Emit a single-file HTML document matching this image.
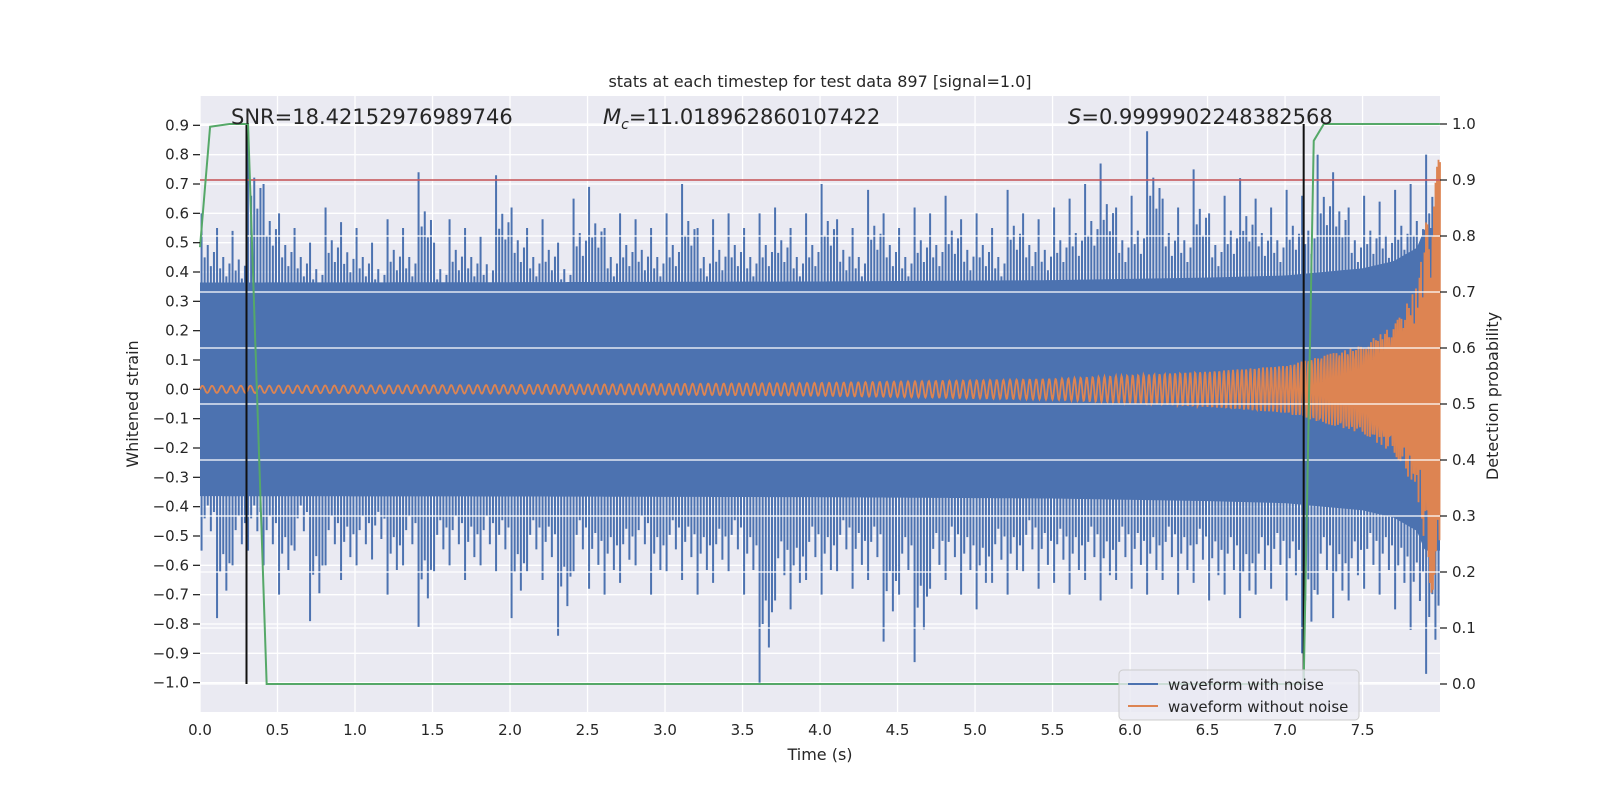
<!DOCTYPE html>
<html><head><meta charset="utf-8"><style>
html,body{margin:0;padding:0;background:#fff;}
svg{display:block;font-family:"DejaVu Sans","Liberation Sans",sans-serif;}
</style></head><body>
<svg id="chart" width="1600" height="800" viewBox="0 0 1600 800" xmlns="http://www.w3.org/2000/svg">
<rect x="0" y="0" width="1600" height="800" fill="#ffffff"/>
<rect x="200" y="96" width="1240" height="616" fill="#eaeaf2"/>
<g id="grid1"></g>
<g id="blue"></g>
<g id="orange"></g>
<g id="grid2"></g>
<g id="marks"></g>
<g id="green"></g>
<g id="axes"></g>
<text x="820" y="87" font-size="16" text-anchor="middle" fill="#262626">stats at each timestep for test data 897 [signal=1.0]</text>
<text x="231" y="124" font-size="21" fill="#262626">SNR=18.42152976989746</text>
<text x="603" y="124" font-size="21" fill="#262626"><tspan font-style="italic">M</tspan><tspan font-size="14" font-style="italic" dy="5">c</tspan><tspan dy="-5">=11.018962860107422</tspan></text>
<text x="1068" y="124" font-size="21" fill="#262626"><tspan font-style="italic">S</tspan>=0.9999902248382568</text>
<text x="820" y="760" font-size="16" text-anchor="middle" fill="#262626">Time (s)</text>
<text transform="translate(138,404) rotate(-90)" font-size="16" text-anchor="middle" fill="#262626">Whitened strain</text>
<text transform="translate(1498,396) rotate(-90)" font-size="16" text-anchor="middle" fill="#262626">Detection probability</text>
<g>
<rect x="1119" y="670" width="240" height="50" rx="4" fill="#eaeaf2" fill-opacity="0.8" stroke="#cccccc"/>
<line x1="1128" y1="684" x2="1158" y2="684" stroke="#4c72b0" stroke-width="2"/>
<text x="1168" y="690" font-size="15" fill="#262626">waveform with noise</text>
<line x1="1128" y1="706" x2="1158" y2="706" stroke="#dd8452" stroke-width="2"/>
<text x="1168" y="712" font-size="15" fill="#262626">waveform without noise</text>
</g>
</svg>
<script>
const binTimes = [0,0.1,0.2,0.3,0.4,0.5,0.6,0.7,0.8,0.9,1.0,1.1,1.2,1.3,1.4,1.5,1.6,1.7,1.8,1.9,2.0,2.1,2.2,2.3,2.4,2.5,2.6,2.7,2.8,2.9,3.0,3.1,3.2,3.3,3.4,3.5,3.6,3.7,3.8,3.9,4.0,4.1,4.2,4.3,4.4,4.5,4.6,4.7,4.8,4.9,5.0,5.1,5.2,5.3,5.4,5.5,5.6,5.7,5.8,5.9,6.0,6.1,6.2,6.3,6.4,6.5,6.6,6.7,6.8,6.9,7.0,7.1,7.2,7.3,7.4,7.5,7.6,7.7,7.8,7.9];
const noiseUpper = [0.6,0.55,0.54,0.88,0.7,0.6,0.55,0.5,0.62,0.57,0.55,0.5,0.58,0.55,0.74,0.5,0.58,0.55,0.52,0.73,0.62,0.55,0.58,0.5,0.65,0.69,0.55,0.6,0.58,0.55,0.6,0.7,0.55,0.58,0.6,0.55,0.6,0.62,0.55,0.6,0.7,0.58,0.55,0.68,0.6,0.55,0.62,0.6,0.66,0.58,0.6,0.55,0.68,0.6,0.58,0.62,0.65,0.7,0.77,0.62,0.66,0.88,0.65,0.62,0.75,0.6,0.66,0.72,0.65,0.62,0.68,0.66,0.8,0.74,0.62,0.66,0.64,0.68,0.7,0.8];
const noiseLower = [-0.55,-0.78,-0.6,-0.55,-0.6,-0.7,-0.55,-0.79,-0.6,-0.65,-0.6,-0.58,-0.7,-0.6,-0.81,-0.62,-0.6,-0.65,-0.6,-0.62,-0.78,-0.62,-0.65,-0.84,-0.62,-0.68,-0.7,-0.66,-0.6,-0.7,-0.62,-0.65,-0.7,-0.66,-0.62,-0.7,-1.0,-0.72,-0.75,-0.65,-0.7,-0.62,-0.68,-0.65,-0.86,-0.7,-0.93,-0.68,-0.65,-0.7,-0.75,-0.66,-0.7,-0.62,-0.68,-0.66,-0.7,-0.65,-0.72,-0.65,-0.68,-0.7,-0.65,-0.7,-0.66,-0.72,-0.7,-0.78,-0.7,-0.68,-0.72,-0.9,-0.7,-0.78,-0.72,-0.68,-0.7,-0.75,-0.82,-0.97];
const chirpTimes = [0,2,4,5.5,6.5,7.0,7.5,7.7,7.85,7.95,8.0];
const chirpAmp = [0.012,0.015,0.022,0.035,0.06,0.08,0.15,0.22,0.35,0.72,0.8];
const chirpFreq = [16,18,21,24,32,40,60,75,90,100,100];
const probTimes = [0,0.065,0.19,0.31,0.43,7.12,7.185,7.25,7.999];
const probValues = [0.78,0.995,1.0,1.0,0.0,0.0,0.97,1.0,1.0];
const xTicks = [0,0.5,1,1.5,2,2.5,3,3.5,4,4.5,5,5.5,6,6.5,7,7.5];
const yTicksLeft = [0.9,0.8,0.7,0.6,0.5,0.4,0.3,0.2,0.1,0,-0.1,-0.2,-0.3,-0.4,-0.5,-0.6,-0.7,-0.8,-0.9,-1.0];
const yTicksRight = [0,0.1,0.2,0.3,0.4,0.5,0.6,0.7,0.8,0.9,1.0];
const thresholdValue = 0.9;
const markerTimes = [0.3,7.12];

const NS='http://www.w3.org/2000/svg';
const X0=200,X1=1440,Y0=96,Y1=712;
const xs=t=>X0+(t-0)/(7.9995-0)*(X1-X0);
const yL=v=>Y1-(v-(-1.1))/(1.0-(-1.1))*(Y1-Y0);
const yR=v=>Y1-(v-(-0.05))/(1.05-(-0.05))*(Y1-Y0);
function mk(tag,attrs,parent){const e=document.createElementNS(NS,tag);for(const k in attrs)e.setAttribute(k,attrs[k]);parent.appendChild(e);return e;}
function interp(ts,vs,t){if(t<=ts[0])return vs[0];for(let i=1;i<ts.length;i++){if(t<=ts[i]){const f=(t-ts[i-1])/(ts[i]-ts[i-1]);return vs[i-1]+f*(vs[i]-vs[i-1]);}}return vs[vs.length-1];}
const fmt=v=>(v<0?'\u2212':'')+Math.abs(v).toFixed(1);

const g1=document.getElementById('grid1');
xTicks.forEach(t=>{const l=mk('line',{x1:xs(t),x2:xs(t),y1:Y0,y2:Y1,stroke:'#fff','stroke-width':1.3},g1);

});
yTicksLeft.forEach(v=>{const l=mk('line',{x1:X0,x2:X1,y1:yL(v),y2:yL(v),stroke:'#fff','stroke-width':1.3},g1);

});

// noise
const gb=document.getElementById('blue');
let up='',lo='';
for(let px=X0;px<=X1;px+=2){const t=(px-X0)/(X1-X0)*7.9995;const a=interp(chirpTimes,chirpAmp,t);const w=Math.min(0.36+0.35*a,0.55);up+=`${px},${yL(w)} `;lo=`${px},${yL(-w)} `+lo;}
const core=mk('polygon',{points:up+lo,fill:'#4c72b0'},gb);


binTimes.forEach((t,i)=>{
  const hi=noiseUpper[i],lw=noiseLower[i];
  [[0,1,1],[0.02,0.75,0.8],[0.04,0.82,0.72],[0.06,0.7,0.88],[0.08,0.78,0.76]].forEach(([dt,fu,fl])=>{
    const x=xs(t+dt+0.01);if(x>X1)return;
    const s=mk('line',{x1:x,x2:x,y1:yL(hi*fu),y2:yL(lw*fl),stroke:'#4c72b0','stroke-width':2},gb);
    
    
  });
});

// chirp
const go=document.getElementById('orange');
let d='',ph=0,prevT=0;
for(let px=X0;px<=X1;px+=0.5){const t=(px-X0)/(X1-X0)*7.9995;ph+=2*Math.PI*interp(chirpTimes,chirpFreq,t)*(t-prevT);prevT=t;
const v=interp(chirpTimes,chirpAmp,t)*Math.sin(ph);d+=(d?'L':'M')+px.toFixed(1)+','+yL(v).toFixed(1);}
const op=mk('path',{d:d,fill:'none',stroke:'#dd8452','stroke-width':1.8},go);



// right grid on top
const g2=document.getElementById('grid2');
yTicksRight.forEach(v=>{const l=mk('line',{x1:X0,x2:X1,y1:yR(v),y2:yR(v),stroke:'#fff','stroke-width':1.3},g2);

});

const gm=document.getElementById('marks');
const red=mk('line',{x1:X0,x2:X1,y1:yR(thresholdValue),y2:yR(thresholdValue),stroke:'#c44e52','stroke-width':1.6},gm);


markerTimes.forEach(t=>{const l=mk('line',{x1:xs(t),x2:xs(t),y1:yR(0),y2:yR(1),stroke:'#111','stroke-width':2},gm);

});

const gg=document.getElementById('green');
const gp=mk('polyline',{points:probTimes.map((t,i)=>xs(t)+','+yR(probValues[i])).join(' '),fill:'none',stroke:'#55a868','stroke-width':2},gg);



const ga=document.getElementById('axes');
xTicks.forEach(t=>{const tx=mk('text',{x:xs(t),y:735,'font-size':15,'text-anchor':'middle',fill:'#262626'},ga);tx.textContent=t.toFixed(1);

});
yTicksLeft.forEach(v=>{const tk=mk('line',{x1:X0-7,x2:X0,y1:yL(v),y2:yL(v),stroke:'#262626','stroke-width':1.3},ga);


const tx=mk('text',{x:X0-11,y:yL(v)+5,'font-size':15,'text-anchor':'end',fill:'#262626'},ga);tx.textContent=fmt(v);

});
yTicksRight.forEach(v=>{const tk=mk('line',{x1:X1,x2:X1+7,y1:yR(v),y2:yR(v),stroke:'#262626','stroke-width':1.3},ga);


const tx=mk('text',{x:X1+12,y:yR(v)+5,'font-size':15,fill:'#262626'},ga);tx.textContent=v.toFixed(1);

});
</script>
</body></html>
